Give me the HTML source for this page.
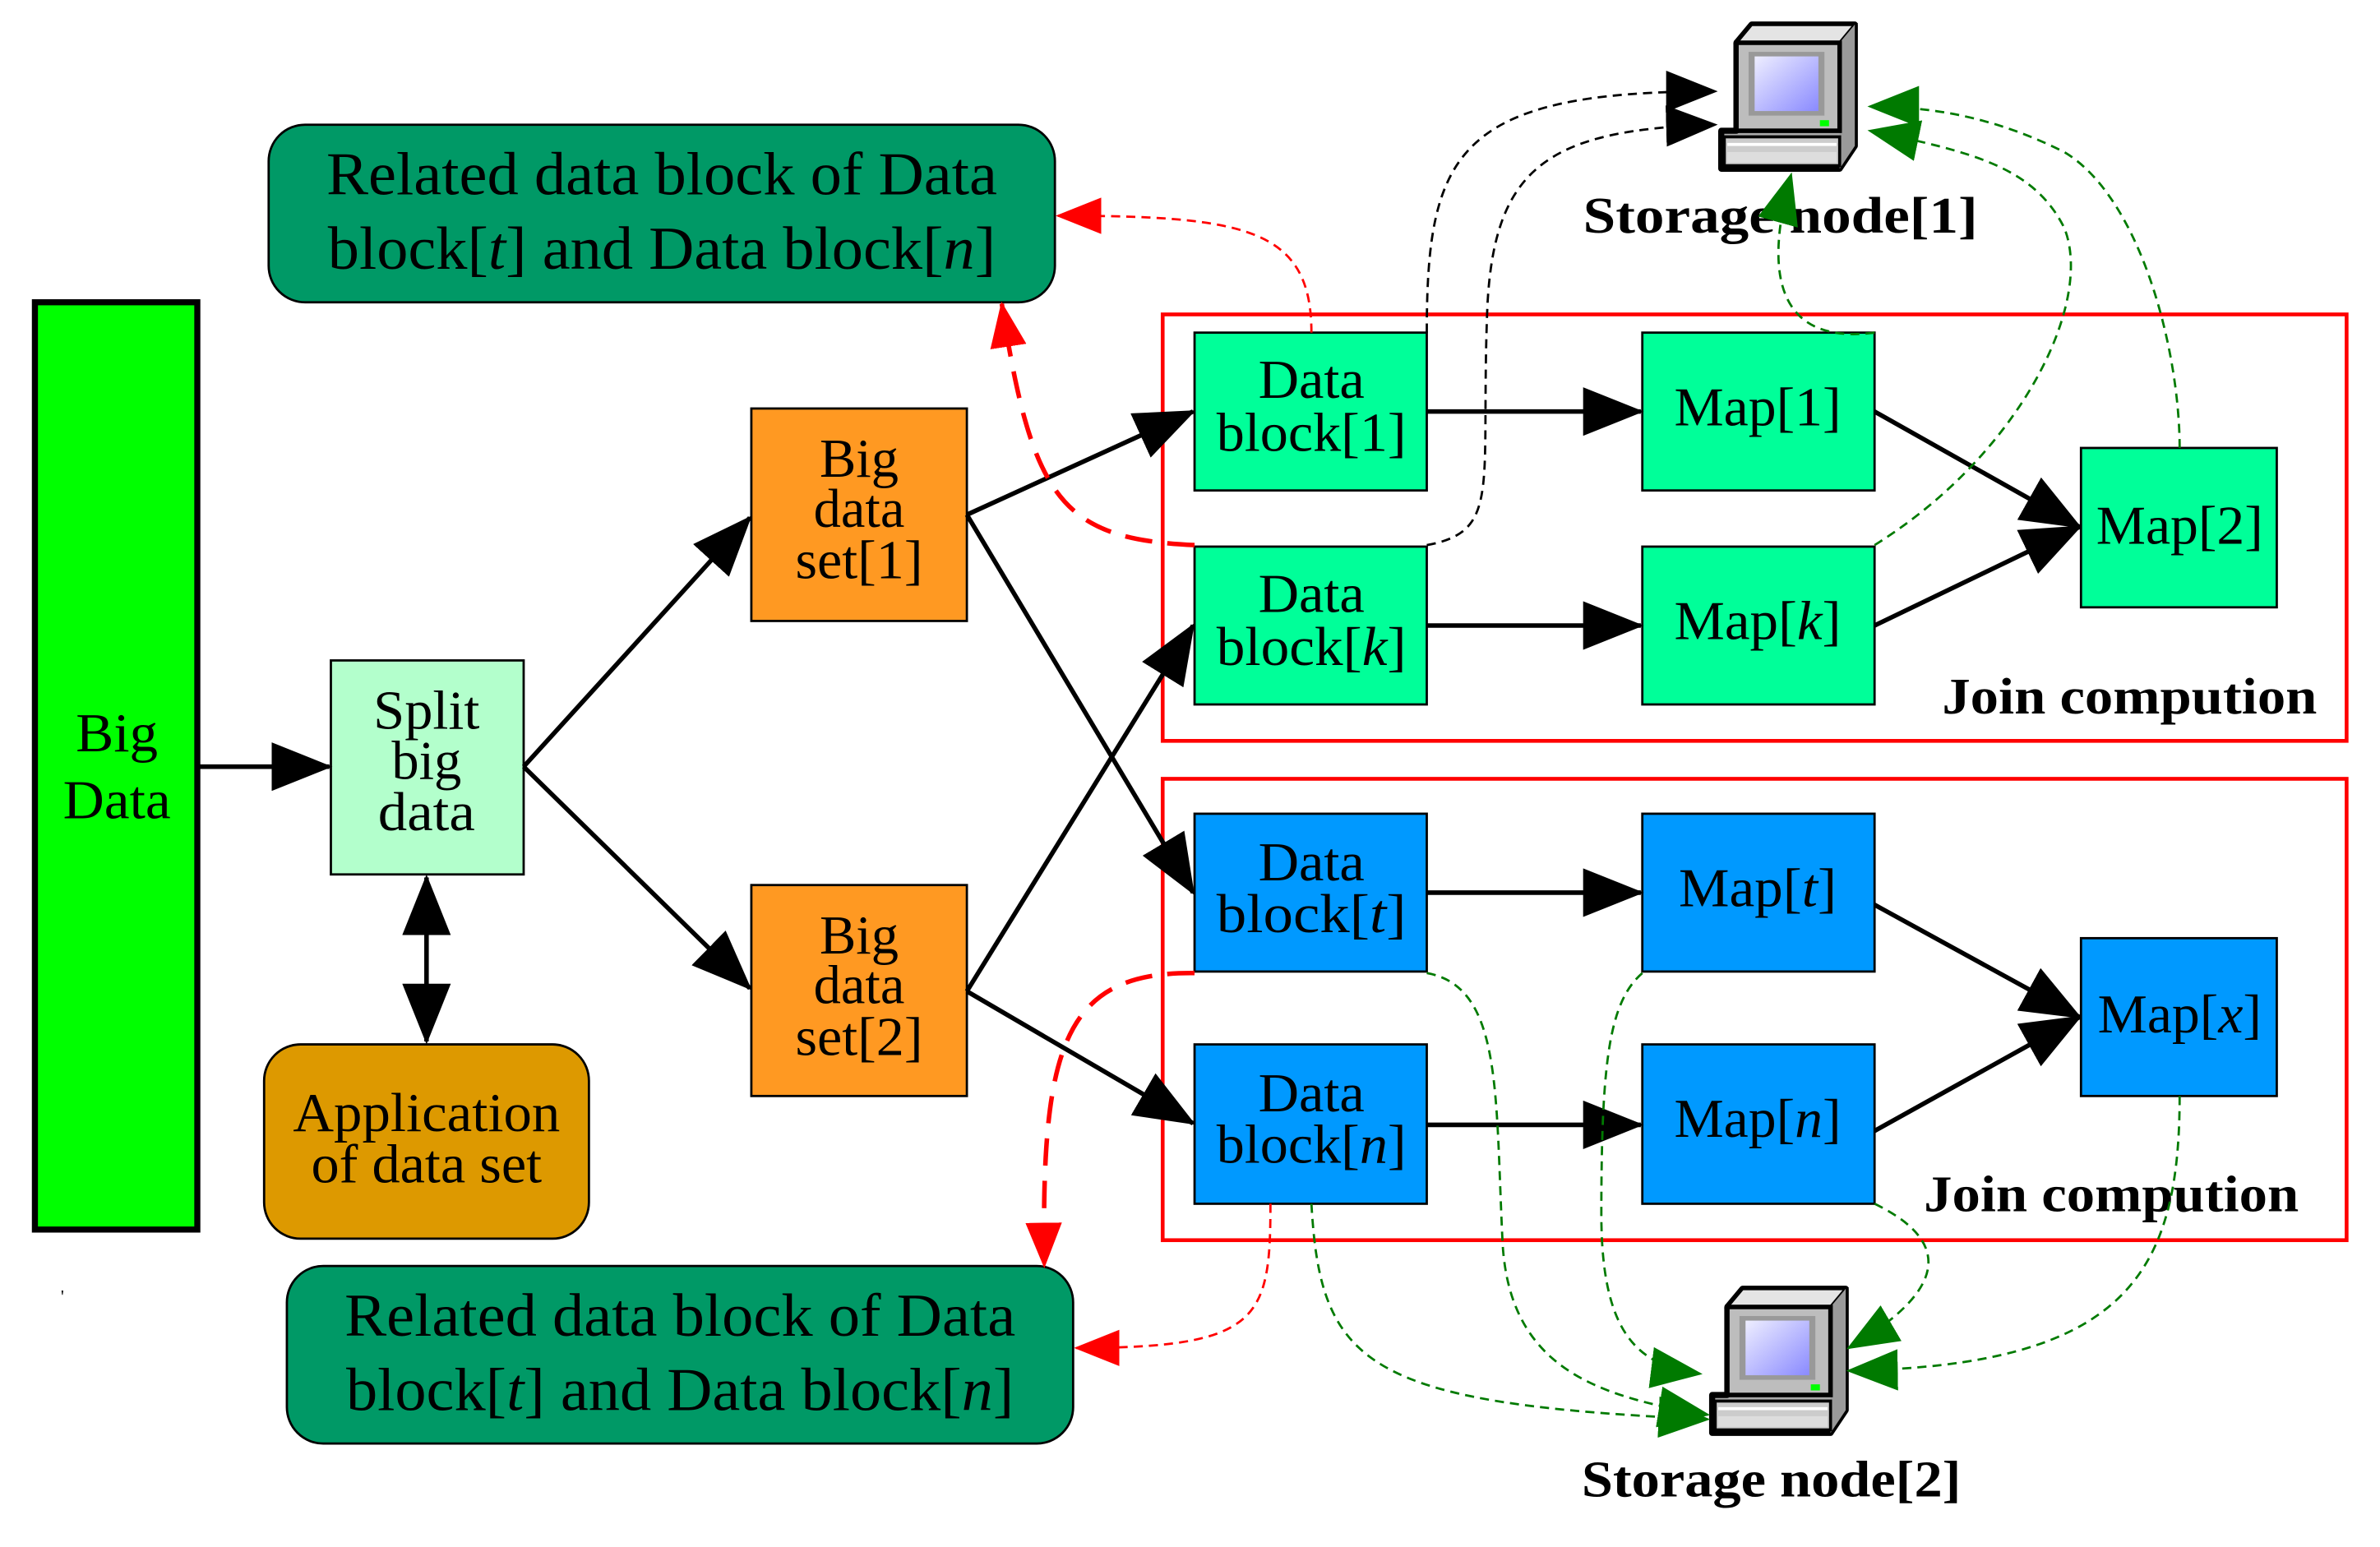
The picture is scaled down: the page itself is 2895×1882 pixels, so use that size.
<!DOCTYPE html>
<html><head><meta charset="utf-8"><style>
html,body{margin:0;padding:0;background:#fff;}
svg{display:block;}
text{font-family:"Liberation Serif",serif;}
</style></head><body>
<svg width="2895" height="1882" viewBox="0 0 1568 1019" xmlns="http://www.w3.org/2000/svg">
<defs>
<marker id="ak" viewBox="0 0 10 8" refX="9.5" refY="4" markerWidth="40" markerHeight="32" orient="auto" markerUnits="userSpaceOnUse"><path d="M0,0 L10,4 L0,8 z" fill="#000"/></marker>
<marker id="akr" viewBox="0 0 10 8" refX="0.5" refY="4" markerWidth="40" markerHeight="32" orient="auto" markerUnits="userSpaceOnUse"><path d="M10,0 L0,4 L10,8 z" fill="#000"/></marker>
<marker id="ar" viewBox="0 0 10 8" refX="9.5" refY="4" markerWidth="30" markerHeight="26" orient="auto" markerUnits="userSpaceOnUse"><path d="M0,0 L10,4 L0,8 z" fill="#f00"/></marker>
<marker id="ag" viewBox="0 0 10 8" refX="9.5" refY="4" markerWidth="34" markerHeight="28" orient="auto" markerUnits="userSpaceOnUse"><path d="M0,0 L10,4 L0,8 z" fill="#007a00"/></marker>
<marker id="abk" viewBox="0 0 10 8" refX="9.5" refY="4" markerWidth="34" markerHeight="28" orient="auto" markerUnits="userSpaceOnUse"><path d="M0,0 L10,4 L0,8 z" fill="#000"/></marker>
<linearGradient id="scr" x1="0" y1="0" x2="1" y2="1"><stop offset="0" stop-color="#eef"/><stop offset="1" stop-color="#8a8aff"/></linearGradient>
<g id="pc">
 <path d="M22,0 L90,0 L90,80 L80,95 L2,95 L2,70 L12,70 L12,12 Z" fill="#aaa" stroke="#000" stroke-width="4" stroke-linejoin="round"/>
 <path d="M12,12 L22,0 L90,0 L80,12 Z" fill="#e4e4e4" stroke="#000" stroke-width="2"/>
 <path d="M80,12 L90,0 L90,80 L80,95 Z" fill="#9a9a9a"/>
 <rect x="12" y="12" width="68" height="58" fill="#bdbdbd" stroke="#000" stroke-width="3"/>
 <rect x="20" y="18" width="50" height="42" fill="#999"/>
 <rect x="24" y="21" width="42" height="36" fill="url(#scr)"/>
 <rect x="67" y="63" width="6" height="4" fill="#0f0"/>
 <rect x="4" y="74" width="76" height="19" fill="#ccc" stroke="#000" stroke-width="2"/>
 <rect x="6" y="78" width="72" height="2" fill="#fff"/>
 <rect x="6" y="84" width="72" height="7" fill="#ddd"/>
</g>
</defs>

<rect x="23" y="199" width="107" height="611" fill="#00ff00" stroke="#000" stroke-width="4"/>
<text x="77" y="495" font-size="36" text-anchor="middle" textLength="54" lengthAdjust="spacingAndGlyphs">Big</text>
<text x="77" y="539" font-size="36" text-anchor="middle" textLength="71" lengthAdjust="spacingAndGlyphs">Data</text>
<text x="40" y="858" font-size="12">'</text>

<rect x="218" y="435" width="127" height="141" fill="#b3ffcc" stroke="#000" stroke-width="1.5"/>
<text x="281" y="480" font-size="36" text-anchor="middle" textLength="70" lengthAdjust="spacingAndGlyphs">Split</text>
<text x="281" y="513" font-size="36" text-anchor="middle" textLength="46" lengthAdjust="spacingAndGlyphs">big</text>
<text x="281" y="547" font-size="36" text-anchor="middle" textLength="64" lengthAdjust="spacingAndGlyphs">data</text>

<rect x="174" y="688" width="214" height="128" rx="24" fill="#dd9900" stroke="#000" stroke-width="1.5"/>
<text x="281" y="745" font-size="36" text-anchor="middle" textLength="176" lengthAdjust="spacingAndGlyphs">Application</text>
<text x="281" y="779" font-size="36" text-anchor="middle" textLength="152" lengthAdjust="spacingAndGlyphs">of data set</text>

<rect x="177" y="82" width="518" height="117" rx="24" fill="#009966" stroke="#000" stroke-width="1.5"/>
<text x="436" y="128" font-size="40" text-anchor="middle" textLength="442" lengthAdjust="spacingAndGlyphs">Related data block of Data</text>
<text x="436" y="177" font-size="40" text-anchor="middle" textLength="440" lengthAdjust="spacingAndGlyphs">block[<tspan font-style="italic">t</tspan>] and Data block[<tspan font-style="italic">n</tspan>]</text>
<rect x="189" y="834" width="518" height="117" rx="24" fill="#009966" stroke="#000" stroke-width="1.5"/>
<text x="448" y="880" font-size="40" text-anchor="middle" textLength="442" lengthAdjust="spacingAndGlyphs">Related data block of Data</text>
<text x="448" y="929" font-size="40" text-anchor="middle" textLength="440" lengthAdjust="spacingAndGlyphs">block[<tspan font-style="italic">t</tspan>] and Data block[<tspan font-style="italic">n</tspan>]</text>

<rect x="495" y="269" width="142" height="140" fill="#ff9922" stroke="#000" stroke-width="1.5"/>
<text x="566" y="314" font-size="36" text-anchor="middle">Big</text>
<text x="566" y="347" font-size="36" text-anchor="middle">data</text>
<text x="566" y="381" font-size="36" text-anchor="middle" textLength="84" lengthAdjust="spacingAndGlyphs">set[1]</text>
<rect x="495" y="583" width="142" height="139" fill="#ff9922" stroke="#000" stroke-width="1.5"/>
<text x="566" y="628" font-size="36" text-anchor="middle">Big</text>
<text x="566" y="661" font-size="36" text-anchor="middle">data</text>
<text x="566" y="695" font-size="36" text-anchor="middle" textLength="84" lengthAdjust="spacingAndGlyphs">set[2]</text>

<rect x="766" y="207" width="780" height="281" fill="none" stroke="#f00" stroke-width="2.5"/>
<rect x="766" y="513" width="780" height="304" fill="none" stroke="#f00" stroke-width="2.5"/>

<g fill="#00ff99" stroke="#000" stroke-width="1.5">
<rect x="787" y="219" width="153" height="104"/>
<rect x="787" y="360" width="153" height="104"/>
<rect x="1082" y="219" width="153" height="104"/>
<rect x="1082" y="360" width="153" height="104"/>
<rect x="1371" y="295" width="129" height="105"/>
</g>
<g fill="#0099ff" stroke="#000" stroke-width="1.5">
<rect x="787" y="536" width="153" height="104"/>
<rect x="787" y="688" width="153" height="105"/>
<rect x="1082" y="536" width="153" height="104"/>
<rect x="1082" y="688" width="153" height="105"/>
<rect x="1371" y="618" width="129" height="104"/>
</g>
<g font-size="36" text-anchor="middle" lengthAdjust="spacingAndGlyphs">
<text x="864" y="262" textLength="70" lengthAdjust="spacingAndGlyphs">Data</text><text x="864" y="297" textLength="125" lengthAdjust="spacingAndGlyphs">block[1]</text>
<text x="864" y="403" textLength="70" lengthAdjust="spacingAndGlyphs">Data</text><text x="864" y="438" textLength="125" lengthAdjust="spacingAndGlyphs">block[<tspan font-style="italic">k</tspan>]</text>
<text x="1158" y="280" textLength="110" lengthAdjust="spacingAndGlyphs">Map[1]</text>
<text x="1158" y="421" textLength="110" lengthAdjust="spacingAndGlyphs">Map[<tspan font-style="italic">k</tspan>]</text>
<text x="1436" y="358" textLength="110" lengthAdjust="spacingAndGlyphs">Map[2]</text>
<text x="864" y="580" textLength="70" lengthAdjust="spacingAndGlyphs">Data</text><text x="864" y="614" textLength="125" lengthAdjust="spacingAndGlyphs">block[<tspan font-style="italic">t</tspan>]</text>
<text x="864" y="732" textLength="70" lengthAdjust="spacingAndGlyphs">Data</text><text x="864" y="766" textLength="125" lengthAdjust="spacingAndGlyphs">block[<tspan font-style="italic">n</tspan>]</text>
<text x="1158" y="597" textLength="104" lengthAdjust="spacingAndGlyphs">Map[<tspan font-style="italic">t</tspan>]</text>
<text x="1158" y="749" textLength="110" lengthAdjust="spacingAndGlyphs">Map[<tspan font-style="italic">n</tspan>]</text>
<text x="1436" y="680" textLength="108" lengthAdjust="spacingAndGlyphs">Map[<tspan font-style="italic">x</tspan>]</text>
</g>
<g font-size="34" font-weight="bold" text-anchor="middle">
<text x="1403" y="470" textLength="247" lengthAdjust="spacingAndGlyphs">Join compution</text>
<text x="1391" y="798" textLength="247" lengthAdjust="spacingAndGlyphs">Join compution</text>
<text x="1173" y="153" textLength="260" lengthAdjust="spacingAndGlyphs">Storage  node[1]</text>
<text x="1167" y="986" textLength="250" lengthAdjust="spacingAndGlyphs">Storage node[2]</text>
</g>

<use href="#pc" x="1132" y="16"/>
<use href="#pc" x="1126" y="849"/>

<g stroke="#000" stroke-width="3" fill="none">
<line x1="130" y1="505" x2="217" y2="505" marker-end="url(#ak)"/>
<line x1="281" y1="578" x2="281" y2="686" marker-end="url(#ak)" marker-start="url(#akr)"/>
<line x1="345" y1="505" x2="494" y2="341" marker-end="url(#ak)"/>
<line x1="345" y1="505" x2="494" y2="651" marker-end="url(#ak)"/>
<line x1="637" y1="339" x2="786" y2="271" marker-end="url(#ak)"/>
<line x1="637" y1="339" x2="786" y2="588" marker-end="url(#ak)"/>
<line x1="637" y1="653" x2="786" y2="412" marker-end="url(#ak)"/>
<line x1="637" y1="653" x2="786" y2="740" marker-end="url(#ak)"/>
<line x1="940" y1="271" x2="1081" y2="271" marker-end="url(#ak)"/>
<line x1="940" y1="412" x2="1081" y2="412" marker-end="url(#ak)"/>
<line x1="940" y1="588" x2="1081" y2="588" marker-end="url(#ak)"/>
<line x1="940" y1="741" x2="1081" y2="741" marker-end="url(#ak)"/>
<line x1="1235" y1="271" x2="1370" y2="347" marker-end="url(#ak)"/>
<line x1="1235" y1="412" x2="1370" y2="347" marker-end="url(#ak)"/>
<line x1="1235" y1="596" x2="1370" y2="670" marker-end="url(#ak)"/>
<line x1="1235" y1="745" x2="1370" y2="670" marker-end="url(#ak)"/>
</g>

<g stroke="#f00" fill="none">
<path d="M864,219 C864,150 820,142 697,142" stroke-width="1.5" stroke-dasharray="6,4" marker-end="url(#ar)"/>
<path d="M787,359 C700,355 680,330 660,200" stroke-width="3" stroke-dasharray="18,10" marker-end="url(#ar)"/>
<path d="M787,641 C700,640 686,690 688,834" stroke-width="3" stroke-dasharray="18,10" marker-end="url(#ar)"/>
<path d="M837,793 C837,870 830,888 709,888" stroke-width="1.5" stroke-dasharray="6,4" marker-end="url(#ar)"/>
</g>

<g stroke="#000" fill="none" stroke-width="1.5" stroke-dasharray="6,4">
<path d="M940,219 C940,100 960,60 1130,60" marker-end="url(#abk)"/>
<path d="M940,359 C990,350 975,320 980,200 C985,110 1020,85 1130,82" marker-end="url(#abk)"/>
</g>

<g stroke="#007a00" fill="none" stroke-width="1.5" stroke-dasharray="6,4">
<path d="M1235,219 C1190,225 1155,205 1180,115" marker-end="url(#ag)"/>
<path d="M1235,359 C1330,300 1380,200 1360,150 C1340,110 1300,100 1232,86" marker-end="url(#ag)"/>
<path d="M1436,295 C1436,230 1410,130 1360,100 C1320,80 1280,70 1232,70" marker-end="url(#ag)"/>
<path d="M940,641 C990,650 985,720 990,820 C995,900 1050,920 1125,932" marker-end="url(#ag)"/>
<path d="M864,793 C870,900 900,925 1125,935" marker-end="url(#ag)"/>
<path d="M1082,641 C1060,660 1055,700 1055,800 C1055,880 1080,900 1120,905" marker-end="url(#ag)"/>
<path d="M1235,793 C1270,810 1300,840 1218,888" marker-end="url(#ag)"/>
<path d="M1436,722 C1436,840 1400,900 1218,903" marker-end="url(#ag)"/>
</g>
</svg>
</body></html>
